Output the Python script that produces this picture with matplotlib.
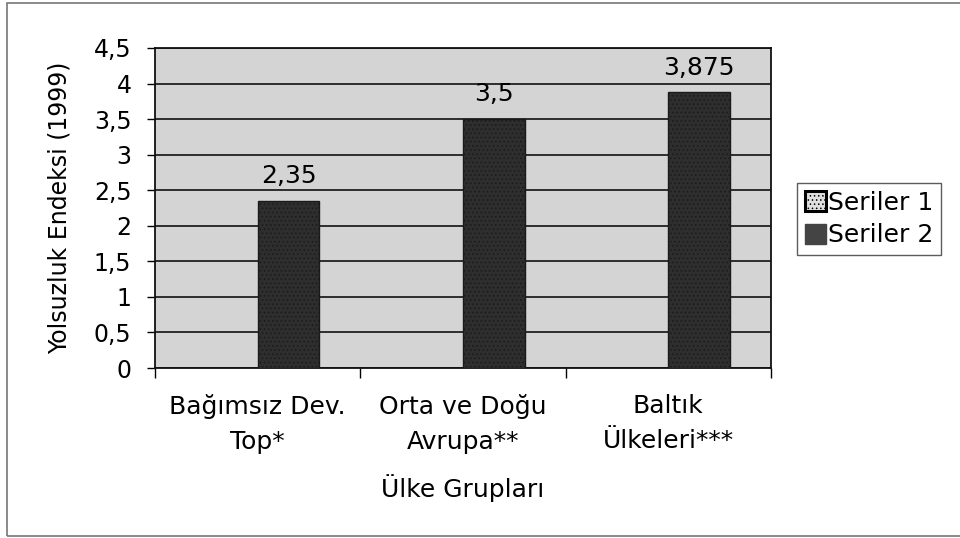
import numpy as np
import matplotlib
matplotlib.use('Agg')
import matplotlib.pyplot as plt
from matplotlib.patches import Patch, Rectangle
from matplotlib.ticker import FuncFormatter, MultipleLocator

# chart data
groups = ['Bağımsız Dev.\nTop*', 'Orta ve Doğu\nAvrupa**', 'Baltık\nÜlkeleri***']
seriler_1 = [0, 0, 0]          # empty series, shown only in the legend
seriler_2 = [2.35, 3.5, 3.875]
seriler_2_labels = ['2,35', '3,5', '3,875']

plt.rcParams['font.family'] = ['DejaVu Sans']
plt.rcParams['hatch.color'] = '#8c8c8c'
plt.rcParams['hatch.linewidth'] = 0.6

fig = plt.figure(figsize=(9.6, 5.38), dpi=100)
ax = fig.add_axes([155 / 960, 170 / 538, 616 / 960, 320 / 538])

# scanned-looking grey plot area
ax.set_facecolor('#d4d4d4')
ax.patch.set_hatch('.....')

x = np.arange(len(groups))
w = 0.30
ax.bar(x - w, seriler_1, width=w, align='edge', color='#e6e6e6', linewidth=0, zorder=3)
bars = ax.bar(x, seriler_2, width=w, align='edge', color='#2e2e2e',
              edgecolor='#1a1a1a', linewidth=1, hatch='....', zorder=3)

for b, lab in zip(bars, seriler_2_labels):
    ax.text(b.get_x() + b.get_width() / 2, b.get_height() + 0.25, lab,
            ha='center', va='baseline', fontsize=18, zorder=4)

ax.set_xlim(-0.5, 2.5)
ax.set_ylim(0, 4.5)
ax.yaxis.set_major_locator(MultipleLocator(0.5))
ax.yaxis.set_major_formatter(FuncFormatter(lambda v, p: ('%g' % v).replace('.', ',')))
ax.grid(axis='y', color='black', linewidth=1.1, zorder=1)
ax.set_axisbelow(True)

# category boundaries as major ticks, names as minor ticks
ax.set_xticks([-0.5, 0.5, 1.5, 2.5])
ax.set_xticklabels([])
ax.set_xticks(x, minor=True)
ax.set_xticklabels(groups, minor=True, fontsize=18, linespacing=1.55)
ax.tick_params(axis='x', which='minor', length=0, pad=19)
ax.tick_params(axis='x', which='major', length=7, width=1, direction='out')
ax.tick_params(axis='y', length=6, width=1, direction='out', labelsize=17, pad=11)

for s in ax.spines.values():
    s.set_linewidth(1.3)
    s.set_color('#111111')

ax.set_ylabel('Yolsuzluk Endeksi (1999)', fontsize=17)
ax.yaxis.set_label_coords(-0.135, 0.5)
ax.set_xlabel('Ülke Grupları', fontsize=18)
ax.xaxis.set_label_coords(0.5, -0.33)

handles = [Patch(facecolor='#e0e0e0', edgecolor='black', linewidth=2.2, hatch='....', label='Seriler 1'),
           Patch(facecolor='#444444', edgecolor='#444444', hatch='....', label='Seriler 2')]
leg = fig.legend(handles=handles, loc='center left', bbox_to_anchor=(797 / 960, 1 - 219 / 538),
                 fontsize=18, frameon=True, fancybox=False, edgecolor='#333333',
                 handlelength=0.85, handleheight=0.85, handletextpad=0.1,
                 borderpad=0.3, labelspacing=0.35, borderaxespad=0)
leg.get_frame().set_linewidth(1.0)

# outer chart border
fig.patches.append(Rectangle((7 / 960, 2 / 538), 960 / 960, 533 / 538,
                             transform=fig.transFigure, fill=False,
                             edgecolor='#777777', linewidth=1.2))

fig.savefig('out.png', dpi=100)
